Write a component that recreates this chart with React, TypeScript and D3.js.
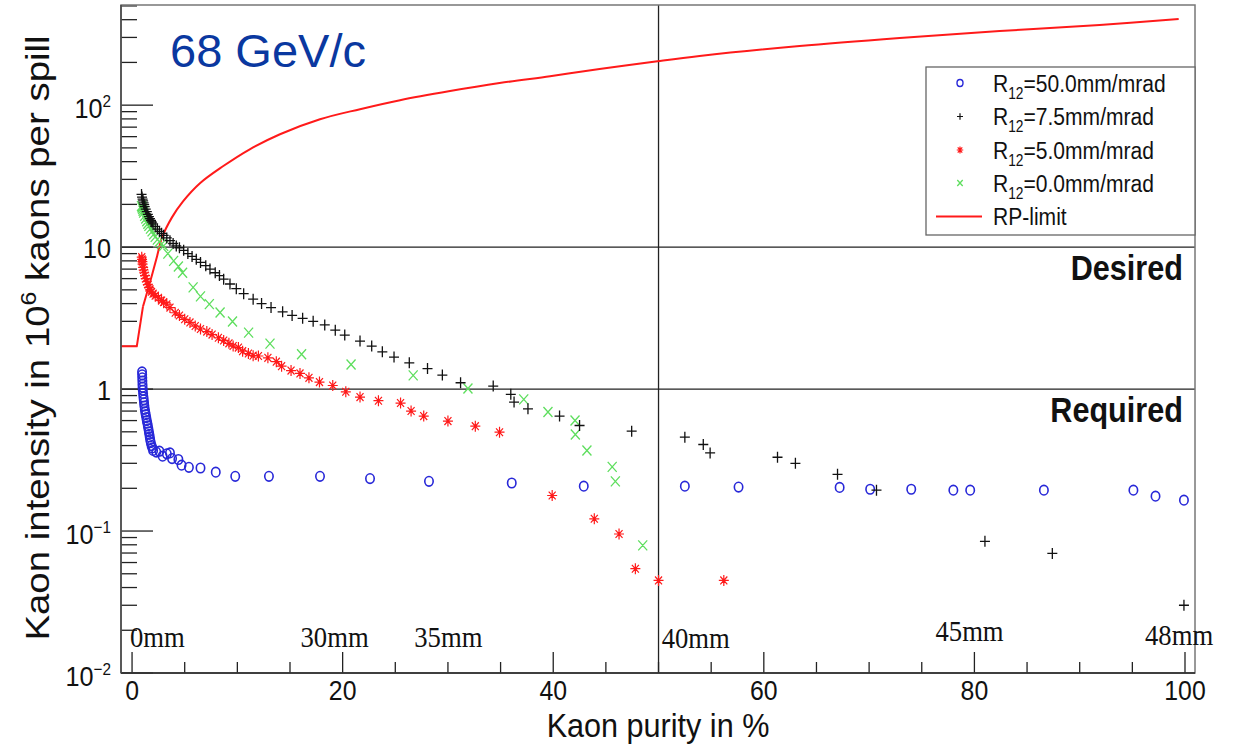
import React from 'react';
import * as d3 from 'd3';

type Pt = [number, number];

// R12 = 50.0 mm/mrad (blue open circles): [purity %, intensity 10^6]
const seriesR50: Pt[] = [
  [0.95, 1.32], [0.96, 1.26], [0.97, 1.2], [0.98, 1.14], [0.99, 1.08], [1.0, 1.03], [1.02, 0.98],
  [1.05, 0.93], [1.08, 0.88], [1.11, 0.84], [1.14, 0.8], [1.17, 0.76], [1.21, 0.72], [1.25, 0.69],
  [1.3, 0.66], [1.35, 0.63], [1.4, 0.6], [1.45, 0.575], [1.5, 0.55], [1.55, 0.525], [1.6, 0.5],
  [1.64, 0.48], [1.68, 0.46], [1.72, 0.44], [1.78, 0.42], [1.85, 0.4], [1.93, 0.385], [2.0, 0.37],
  [2.3, 0.36], [2.6, 0.365], [2.9, 0.337], [3.3, 0.35], [3.6, 0.355], [3.8, 0.324], [4.4, 0.319],
  [4.7, 0.291], [5.4, 0.281], [6.5, 0.278], [7.95, 0.26], [9.8, 0.243], [13.0, 0.243], [17.85, 0.243],
  [22.6, 0.234], [28.2, 0.224], [36.06, 0.218], [42.9, 0.207], [52.5, 0.207], [57.6, 0.204],
  [67.2, 0.203], [70.1, 0.197], [74.0, 0.197], [78.0, 0.194], [79.6, 0.194], [86.6, 0.194],
  [95.1, 0.194], [97.2, 0.176], [99.9, 0.165],
];

// R12 = 7.5 mm/mrad (black plus)
const seriesR75: Pt[] = [
  [0.9, 23.5], [0.95, 22.5], [1.0, 21.8], [1.05, 21.2], [1.1, 20.5], [1.15, 19.9], [1.2, 19.3],
  [1.3, 18.5], [1.4, 17.8], [1.5, 17.0], [1.6, 16.4], [1.7, 15.9], [1.8, 15.4], [1.9, 15.0],
  [2.0, 14.6], [2.2, 14.0], [2.4, 13.4], [2.6, 12.9], [2.8, 12.5], [3.0, 12.1], [3.3, 11.6],
  [3.6, 11.1], [3.9, 10.6], [4.2, 10.2], [4.5, 9.9], [4.9, 9.5], [5.3, 9.0], [5.7, 8.6], [6.1, 8.2],
  [6.5, 7.8], [7.0, 7.4], [7.4, 7.0], [7.9, 6.6], [8.3, 6.3], [8.7, 5.95], [9.3, 5.5], [9.9, 5.1],
  [10.6, 4.7], [11.5, 4.3], [12.3, 4.0], [13.2, 3.75], [14.3, 3.5], [15.2, 3.3], [16.2, 3.15],
  [17.2, 3.0], [18.3, 2.83], [19.3, 2.6], [20.2, 2.4], [21.65, 2.18], [22.76, 2.01], [23.77, 1.83],
  [24.88, 1.68], [26.33, 1.53], [28.06, 1.395], [29.47, 1.255], [31.2, 1.108], [34.3, 1.05],
  [35.97, 0.918], [36.28, 0.81], [37.6, 0.726], [40.6, 0.645], [42.5, 0.554], [47.45, 0.505],
  [52.5, 0.458], [54.25, 0.407], [54.9, 0.355], [61.3, 0.331], [63.0, 0.3], [67.0, 0.251],
  [70.7, 0.194], [81.0, 0.0846], [87.4, 0.0696], [99.9, 0.03],
];

// R12 = 5.0 mm/mrad (red stars)
const seriesR5: Pt[] = [
  [0.92, 8.5], [0.95, 8.2], [0.98, 7.9], [1.0, 7.6], [1.05, 7.2], [1.1, 6.9], [1.15, 6.6],
  [1.23, 6.3], [1.3, 6.0], [1.4, 5.7], [1.5, 5.45], [1.6, 5.2], [1.7, 5.05], [1.85, 4.85],
  [2.0, 4.7], [2.2, 4.55], [2.5, 4.4], [2.8, 4.2], [3.0, 4.1], [3.3, 3.96], [3.6, 3.75], [4.1, 3.45],
  [4.5, 3.3], [5.0, 3.1], [5.5, 2.95], [6.0, 2.78], [6.5, 2.65], [7.1, 2.54], [7.6, 2.42],
  [8.2, 2.3], [8.7, 2.2], [9.2, 2.1], [9.6, 2.01], [10.1, 1.96], [10.5, 1.85], [11.05, 1.78],
  [11.5, 1.72], [12.0, 1.71], [12.9, 1.66], [13.7, 1.56], [14.2, 1.45], [15.1, 1.35], [15.95, 1.29],
  [16.8, 1.2], [17.8, 1.12], [19.06, 1.06], [20.3, 0.957], [21.65, 0.878], [23.4, 0.828],
  [25.5, 0.797], [26.5, 0.7], [27.7, 0.645], [30.0, 0.595], [32.6, 0.548], [34.9, 0.497],
  [39.9, 0.178], [43.9, 0.122], [46.25, 0.0953], [47.8, 0.0543], [50.0, 0.0449], [56.2, 0.0449],
];

// R12 = 0.0 mm/mrad (green crosses)
const seriesR0: Pt[] = [
  [0.9, 19.5], [0.95, 19.0], [1.0, 18.5], [1.05, 18.0], [1.1, 17.5], [1.2, 16.6], [1.3, 15.9],
  [1.4, 15.2], [1.5, 14.6], [1.6, 14.1], [1.75, 13.5], [1.9, 12.9], [2.05, 12.3], [2.2, 11.8],
  [2.4, 11.3], [2.6, 10.9], [2.8, 10.5], [3.0, 10.2], [3.4, 9.0], [3.95, 8.0], [4.4, 7.3],
  [4.8, 6.6], [5.8, 5.2], [6.5, 4.5], [7.34, 3.97], [8.36, 3.46], [9.54, 2.99], [11.07, 2.5],
  [13.1, 2.09], [16.1, 1.76], [20.8, 1.49], [26.7, 1.25], [31.9, 1.01], [37.2, 0.846],
  [39.5, 0.69], [42.07, 0.601], [42.1, 0.479], [43.2, 0.369], [45.6, 0.283], [45.9, 0.224],
  [48.5, 0.0793],
];

// RP-limit (red line)
const rpLimit: Pt[] = [
  [-1.05, 2.0], [0.45, 2.0], [1.04, 3.82], [1.7, 5.64], [2.37, 8.6], [2.85, 11.7], [3.79, 16.2],
  [4.84, 21.0], [6.45, 28.2], [8.63, 37.1], [11.18, 48.9], [14.05, 62.4], [17.85, 79.6],
  [21.65, 93.7], [25.45, 108.4], [30.2, 125.6], [34.9, 143], [39.7, 160], [44.4, 179.5],
  [49.9, 204], [53.9, 222], [63.4, 260.8], [72.9, 297], [82.4, 333], [91.9, 367], [99.4, 404],
];

const xTickValues = [0, 20, 40, 60, 80, 100];
const yMajorValues = [0.01, 0.1, 1, 10, 100];
const yTickBase = ['10', '10', '1', '10', '10'];
const yTickExp = ['\u22122', '\u22121', '', '', '2'];

const legendValues = ['=50.0mm/mrad', '=7.5mm/mrad', '=5.0mm/mrad', '=0.0mm/mrad'];
const mmLabels = ['0mm', '30mm', '35mm', '40mm', '45mm', '48mm'];
const mmPurity = [-0.2, 16.0, 26.8, 50.3, 76.3, 96.2];
const mmIntensity = [0.0152, 0.0152, 0.0152, 0.015, 0.0168, 0.0158];
const levelValues = [10, 1];
const levelLabels = ['Desired', 'Required'];
const purityMarker = 50;

const BLUE = '#2828d8';
const RED = '#ff1a1a';
const GREEN = '#5ede5e';
const SANS = '"Liberation Sans", Arial, Helvetica, sans-serif';
const SERIF = '"Liberation Serif", "Times New Roman", serif';

const plusPath = (cx: number, cy: number, s = 1) =>
  `M${cx - 5 * s},${cy}h${10 * s}M${cx},${cy - 5.5 * s}v${11 * s}`;
const crossPath = (cx: number, cy: number, s = 1) =>
  `M${cx - 4.5 * s},${cy - 5 * s}l${9 * s},${10 * s}M${cx + 4.5 * s},${cy - 5 * s}l${-9 * s},${10 * s}`;
const starPath = (cx: number, cy: number, s = 1) =>
  `M${cx - 5 * s},${cy}h${10 * s}M${cx},${cy - 5.5 * s}v${11 * s}` +
  `M${cx - 3.5 * s},${cy - 3.9 * s}l${7 * s},${7.8 * s}M${cx + 3.5 * s},${cy - 3.9 * s}l${-7 * s},${7.8 * s}`;

export default function App() {
  const L = 121, R = 1195, T = 5, B = 673;
  const x = d3.scaleLinear().domain([-1.05, 100.95]).range([L, R]);
  const y = d3.scaleLog().domain([0.01, 507.6]).range([B, T]);
  const flatLine = d3.line<Pt>().x(d => x(d[0])).y(d => y(d[1]));
  const smoothLine = d3.line<Pt>().x(d => x(d[0])).y(d => y(d[1])).curve(d3.curveCatmullRom.alpha(0.5));

  const xMinor = d3.range(0, 101, 5);
  const yMinor: number[] = [];
  yMajorValues.forEach(dec => {
    for (let k = 2; k <= 9; k++) {
      const v = dec * k;
      if (v <= 507.6) yMinor.push(v);
    }
  });

  const legendY = [83, 116.5, 150, 183, 216.5];

  return (
    <svg width={1242} height={744} style={{ position: 'absolute', left: 0, top: 0, background: '#fff' }}
      fontFamily={SANS}>
      <defs>
        <clipPath id="frame"><rect x={L} y={T} width={R - L} height={B - T} /></clipPath>
      </defs>
      <rect x={0} y={0} width={1242} height={744} fill="#fff" />

      {/* reference lines */}
      {levelValues.map(v => (
        <line key={v} x1={L} x2={R} y1={y(v)} y2={y(v)} stroke="#222" strokeWidth={1.3} />
      ))}
      <line x1={x(purityMarker)} x2={x(purityMarker)} y1={T} y2={B} stroke="#222" strokeWidth={1.3} />

      {/* y ticks */}
      {yMajorValues.map(v => (
        <line key={'ym' + v} x1={L} x2={L + 32} y1={y(v)} y2={y(v)} stroke="#222" strokeWidth={1.3} />
      ))}
      {yMinor.map(v => (
        <line key={'yn' + v} x1={L} x2={L + 16} y1={y(v)} y2={y(v)} stroke="#222" strokeWidth={1.3} />
      ))}
      {/* x ticks */}
      {xMinor.map(v => (
        <line key={'x' + v} x1={x(v)} x2={x(v)} y1={B} y2={B - (v % 20 === 0 ? 21 : 11)} stroke="#222" strokeWidth={1.3} />
      ))}

      {/* data */}
      <g clipPath="url(#frame)">
        <path d={flatLine(rpLimit.slice(0, 3)) || ''} fill="none" stroke={RED} strokeWidth={2} strokeLinejoin="round" />
        <path d={smoothLine(rpLimit.slice(2)) || ''} fill="none" stroke={RED} strokeWidth={2} />
        {seriesR50.map((d, i) => (
          <ellipse key={'b' + i} cx={x(d[0])} cy={y(d[1])} rx={4.2} ry={4.8} fill="none" stroke={BLUE} strokeWidth={1.6} />
        ))}
        <path d={seriesR0.map(d => crossPath(x(d[0]), y(d[1]))).join('')} fill="none" stroke={GREEN} strokeWidth={1.3} />
        <path d={seriesR5.map(d => starPath(x(d[0]), y(d[1]))).join('')} fill="none" stroke={RED} strokeWidth={1.2} />
        <path d={seriesR75.map(d => plusPath(x(d[0]), y(d[1]))).join('')} fill="none" stroke="#111" strokeWidth={1.3} />
      </g>

      {/* frame */}
      <rect x={L} y={T} width={R - L} height={B - T} fill="none" stroke="#777" strokeWidth={1.5} />
      <line x1={L} x2={R} y1={B} y2={B} stroke="#222" strokeWidth={1.5} />
      <line x1={L} x2={L} y1={T} y2={B} stroke="#444" strokeWidth={1.5} />

      {/* x tick labels */}
      {xTickValues.map(v => (
        <text key={'xl' + v} transform={`translate(${x(v)},700) scale(0.92,1)`} textAnchor="middle" fontSize={27} fill="#111">{v}</text>
      ))}
      {/* y tick labels */}
      {yMajorValues.map((v, i) => (
        <text key={'yl' + v} transform={`translate(111,${y(v) + (yTickExp[i] ? 13 : 10.5)}) scale(0.9,1)`} textAnchor="end" fontSize={28} fill="#111">
          {yTickBase[i]}
          {yTickExp[i] ? <tspan dy={-11} fontSize={17}>{yTickExp[i]}</tspan> : null}
        </text>
      ))}

      {/* axis titles */}
      <text transform="translate(658,737) scale(0.9,1)" textAnchor="middle" fontSize={34} fill="#111">Kaon purity in %</text>
      <text transform="translate(49,338) rotate(-90) scale(1.13,1)" textAnchor="middle" fontSize={34} fill="#111">
        Kaon intensity in 10<tspan dy={-13} fontSize={22}>6</tspan><tspan dy={13}> kaons per spill</tspan>
      </text>

      {/* level labels */}
      {levelValues.map((v, i) => (
        <text key={'lv' + v} transform={`translate(${x(99.8)},${y(v) + 33}) scale(0.85,1)`} textAnchor="end"
          fontSize={36} fontWeight="bold" fill="#111">{levelLabels[i]}</text>
      ))}

      {/* mm labels */}
      {mmLabels.map((t, i) => (
        <text key={t} transform={`translate(${x(mmPurity[i])},${y(mmIntensity[i])}) scale(0.92,1)`} fontFamily={SERIF}
          fontSize={29} fill="#111">{t}</text>
      ))}

      {/* momentum label */}
      <text x={170} y={67} fontSize={47} fill="#0a38a0">68 GeV/c</text>

      {/* legend */}
      <rect x={926} y={67} width={269} height={168} fill="#fff" stroke="#666" strokeWidth={1.3} />
      <ellipse cx={960} cy={legendY[0]} rx={3} ry={3.5} fill="none" stroke={BLUE} strokeWidth={1.4} />
      <path d={plusPath(960, legendY[1], 0.6)} stroke="#111" strokeWidth={1.2} />
      <path d={starPath(960, legendY[2], 0.65)} stroke={RED} strokeWidth={1.2} />
      <path d={crossPath(960, legendY[3], 0.6)} stroke={GREEN} strokeWidth={1.3} />
      <line x1={936} x2={982} y1={legendY[4]} y2={legendY[4]} stroke={RED} strokeWidth={2} />
      {legendValues.map((t, i) => (
        <text key={t} transform={`translate(993,${legendY[i] + 8.7}) scale(0.86,1)`} fontSize={24.5} fill="#111">
          R<tspan dy={7} fontSize={16}>12</tspan><tspan dy={-7}>{t}</tspan>
        </text>
      ))}
      <text transform={`translate(993,${legendY[4] + 8.7}) scale(0.86,1)`} fontSize={24.5} fill="#111">RP-limit</text>
    </svg>
  );
}
